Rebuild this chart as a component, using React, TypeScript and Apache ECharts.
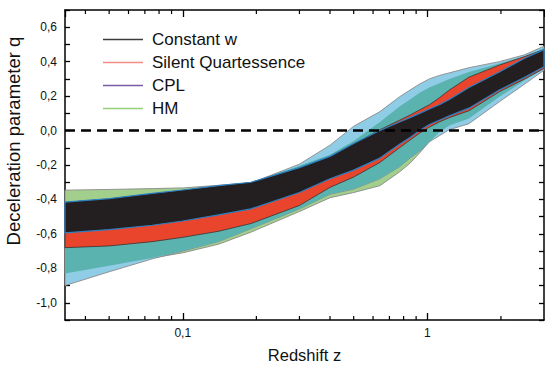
import React, { useEffect, useRef } from 'react';
import * as echarts from 'echarts';

// Redshift grid (x values) shared by all bands
const zGrid = [0.033, 0.05, 0.075, 0.1, 0.14, 0.19, 0.3, 0.4, 0.5, 0.64, 0.77, 0.85, 0.93, 1.02, 1.12, 1.23, 1.48, 1.97, 2.5, 3.0];

// Constant w band
const constLower = [-0.594, -0.575, -0.55, -0.525, -0.49, -0.455, -0.36, -0.28, -0.23, -0.16, -0.08, -0.04, 0.0, 0.035, 0.06, 0.085, 0.13, 0.235, 0.31, 0.37];
const constUpper = [-0.415, -0.395, -0.365, -0.345, -0.32, -0.3, -0.215, -0.15, -0.075, 0.0, 0.05, 0.075, 0.1, 0.125, 0.15, 0.18, 0.25, 0.34, 0.42, 0.47];

// Silent Quartessence band
const sqLower = [-0.68, -0.67, -0.645, -0.62, -0.585, -0.54, -0.435, -0.33, -0.27, -0.185, -0.1, -0.055, -0.015, 0.02, 0.05, 0.075, 0.115, 0.225, 0.3, 0.36];
const sqUpper = [-0.43, -0.41, -0.38, -0.36, -0.335, -0.315, -0.23, -0.16, -0.08, 0.005, 0.06, 0.09, 0.12, 0.15, 0.19, 0.235, 0.31, 0.38, 0.43, 0.47];

// CPL band
const cplLower = [-0.9, -0.82, -0.745, -0.7, -0.645, -0.57, -0.455, -0.37, -0.34, -0.28, -0.21, -0.16, -0.12, -0.065, -0.03, 0.005, 0.04, 0.167, 0.27, 0.35];
const cplUpper = [-0.44, -0.42, -0.39, -0.365, -0.335, -0.305, -0.195, -0.085, 0.025, 0.11, 0.196, 0.235, 0.27, 0.3, 0.32, 0.335, 0.365, 0.4, 0.44, 0.49];

// HM band
const hmLower = [-0.83, -0.785, -0.74, -0.71, -0.66, -0.59, -0.47, -0.39, -0.36, -0.32, -0.24, -0.19, -0.13, -0.065, -0.01, 0.03, 0.07, 0.196, 0.29, 0.36];
const hmUpper = [-0.346, -0.342, -0.337, -0.333, -0.318, -0.303, -0.205, -0.14, -0.06, 0.05, 0.14, 0.18, 0.22, 0.25, 0.275, 0.3, 0.34, 0.39, 0.43, 0.48];

// Overlap of CPL and HM (derived)
const overlapLower = zGrid.map((_, i) => Math.max(cplLower[i], hmLower[i]));
const overlapUpper = zGrid.map((_, i) => Math.max(overlapLower[i], Math.min(cplUpper[i], hmUpper[i])));

// Reference line q = 0
const refLineX = [0.033, 3.0];
const refLineY = [0, 0];

// Minor ticks on the log x axis
const minorTicksX = [0.04, 0.05, 0.06, 0.07, 0.08, 0.09, 0.2, 0.3, 0.4, 0.5, 0.6, 0.7, 0.8, 0.9, 2];

const legendNames = ['Constant w', 'Silent Quartessence', 'CPL', 'HM'];
const legendColors = ['#3c3c3c', '#f48a84', '#7a5ca8', '#98d07a'];

const X_MIN = 0.033;
const X_MAX = 3.0;
const Y_MIN = -1.1;
const Y_MAX = 0.7;
const FONT = '"Liberation Sans", Arial, sans-serif';

function band(name: string, low: number[], up: number[], fill: string, stroke: string, lw: number, z: number) {
  return {
    type: 'custom',
    name,
    z,
    silent: true,
    data: zGrid.map((x, i) => [x, low[i], up[i]]),
    encode: { x: 0, y: [1, 2] },
    renderItem: (params: any, api: any) => {
      if (params.dataIndex !== 0) return null;
      const pts: number[][] = [];
      for (let i = 0; i < zGrid.length; i++) pts.push(api.coord([zGrid[i], up[i]]));
      for (let i = zGrid.length - 1; i >= 0; i--) pts.push(api.coord([zGrid[i], low[i]]));
      return {
        type: 'polygon',
        shape: { points: pts },
        style: { fill, stroke, lineWidth: lw, lineJoin: 'round' },
      };
    },
  };
}

export default function App() {
  const ref = useRef<HTMLDivElement>(null);
  useEffect(() => {
    document.body.style.margin = '0';
    const chart = echarts.init(ref.current!, null, { renderer: 'svg' });
    const axisCommon = {
      type: 'log',
      logBase: 10,
      min: X_MIN,
      max: X_MAX,
      splitLine: { show: false },
      axisLine: { show: true, onZero: false, lineStyle: { color: '#000', width: 1.5 } },
      axisTick: { show: true, inside: true, length: 7, lineStyle: { color: '#000', width: 1.3 } },
    };
    const yCommon = {
      type: 'value',
      min: Y_MIN,
      max: Y_MAX,
      interval: 0.1,
      splitLine: { show: false },
      axisLine: { show: true, onZero: false, lineStyle: { color: '#000', width: 1.5 } },
      axisTick: { show: true, inside: true, length: 5, lineStyle: { color: '#000', width: 1.3 } },
    };
    const graphics: any[] = [];
    legendNames.forEach((n, i) => {
      const y = 39.5 + i * 23;
      graphics.push({
        type: 'line',
        shape: { x1: 103, y1: y, x2: 143, y2: y },
        style: { stroke: legendColors[i], lineWidth: 1.6 },
        z: 100,
      });
      graphics.push({
        type: 'text',
        x: 152,
        y,
        style: { text: n, fontSize: 17, fontFamily: FONT, fill: '#111', verticalAlign: 'middle', align: 'left' },
        z: 100,
      });
    });
    graphics.push({
      type: 'text',
      x: 13,
      y: 141,
      rotation: Math.PI / 2,
      style: {
        text: 'Deceleration parameter q',
        fontSize: 18.5,
        fontFamily: FONT,
        fill: '#111',
        align: 'center',
        verticalAlign: 'middle',
      },
      z: 100,
    });

    chart.setOption({
      animation: false,
      grid: { left: 65, right: 1, top: 10, bottom: 46, containLabel: false },
      xAxis: [
        {
          ...axisCommon,
          position: 'bottom',
          name: 'Redshift z',
          nameLocation: 'middle',
          nameGap: 26,
          nameTextStyle: { fontSize: 16.5, fontFamily: FONT, color: '#111' },
          axisLabel: {
            show: true,
            showMinLabel: false,
            showMaxLabel: false,
            fontSize: 12,
            fontFamily: FONT,
            color: '#111',
            margin: 7,
            formatter: (v: number) => String(Number(v.toPrecision(3))).replace('.', ','),
          },
        },
        {
          ...axisCommon,
          position: 'top',
          axisLabel: { show: false },
        },
      ],
      yAxis: [
        {
          ...yCommon,
          position: 'left',
          axisLabel: {
            show: true,
            fontSize: 12,
            fontFamily: FONT,
            color: '#111',
            margin: 8,
            formatter: (v: number) => {
              const t = Math.round(v * 10);
              if (t % 2 !== 0) return '';
              return (t / 10).toFixed(1).replace('.', ',');
            },
          },
        },
        {
          ...yCommon,
          position: 'right',
          axisLabel: { show: false },
        },
      ],
      graphic: graphics,
      series: [
        band('HM', hmLower, hmUpper, '#a2cf8c', '#8a8a8a', 0.9, 1),
        band('CPL', cplLower, cplUpper, '#8fcde6', '#8a8a8a', 0.9, 2),
        band('overlap', overlapLower, overlapUpper, '#5bb3af', 'none', 0, 3),
        band('Silent Quartessence', sqLower, sqUpper, '#e9452c', '#2a2a2a', 0.7, 4),
        band('Constant w', constLower, constUpper, '#231f20', '#2a7fc3', 1.2, 5),
        {
          type: 'line',
          z: 6,
          silent: true,
          symbol: 'none',
          data: refLineX.map((x, i) => [x, refLineY[i]]),
          lineStyle: { color: '#000', width: 2.6, type: [10, 6] },
        },
        {
          // same q = 0 line bound to the mirrored top/right axes (keeps them scaled)
          type: 'line',
          xAxisIndex: 1,
          yAxisIndex: 1,
          silent: true,
          symbol: 'none',
          data: refLineX.map((x, i) => [x, refLineY[i]]),
          lineStyle: { opacity: 0 },
        },
        {
          type: 'custom',
          z: 7,
          silent: true,
          data: minorTicksX.map((x) => [x, 0]),
          encode: { x: 0, y: 1 },
          renderItem: (params: any, api: any) => {
            const x = api.coord([api.value(0), 0])[0];
            const cs = params.coordSys;
            const b = cs.y + cs.height;
            return {
              type: 'group',
              children: [
                { type: 'line', shape: { x1: x, y1: b, x2: x, y2: b - 4 }, style: { stroke: '#000', lineWidth: 1.2 } },
                { type: 'line', shape: { x1: x, y1: cs.y, x2: x, y2: cs.y + 4 }, style: { stroke: '#000', lineWidth: 1.2 } },
              ],
            };
          },
        },
      ],
    });
    return () => chart.dispose();
  }, []);
  return <div ref={ref} style={{ width: 545, height: 368 }} />;
}
